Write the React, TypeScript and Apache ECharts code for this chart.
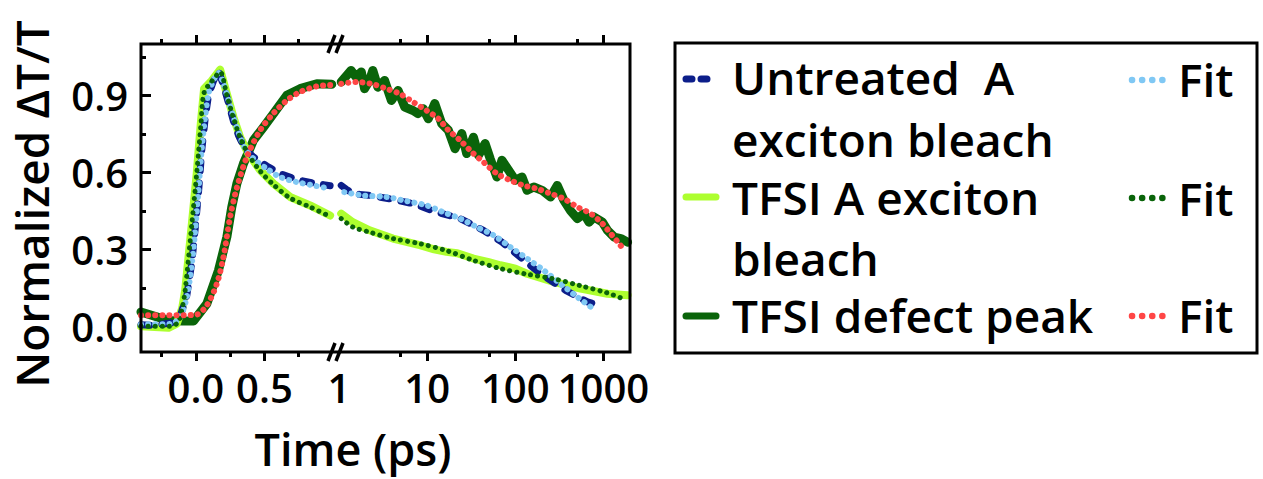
import React, { useEffect, useRef } from "react";
import * as echarts from "echarts";

// ---------- tick values ----------
const yTickValues = [0, 0.3, 0.6, 0.9];
const yMinorTickValues = [0.15, 0.45, 0.75, 1.05];
const linTickValues = [0, 0.5];
const linMinorTickValues = [-0.25, 0.25, 0.75];
const logLabelValues = [1, 10, 100, 1000];
const logMajorTickValues = [10, 100, 1000];
const logMinorTickValues = [5, 50, 500];

// ---------- linear segment (-0.4 .. 1 ps) ----------
const untreatedLinT = [-0.4, -0.3, -0.236, -0.163, -0.114, -0.066, -0.029, -0.005, 0.019, 0.044, 0.068, 0.092, 0.128, 0.165, 0.201, 0.238, 0.274, 0.31, 0.36, 0.42, 0.517, 0.614, 0.736, 0.857, 0.979];
const untreatedLinV = [0.006, 0.004, 0.009, 0.014, 0.04, 0.12, 0.25, 0.38, 0.52, 0.69, 0.81, 0.9, 0.955, 0.995, 0.94, 0.87, 0.8, 0.745, 0.69, 0.66, 0.625, 0.595, 0.572, 0.558, 0.548];
const untreatedFitLinT = untreatedLinT;
const untreatedFitLinV = [0.008, 0.008, 0.008, 0.013, 0.036, 0.114, 0.244, 0.374, 0.53, 0.7, 0.815, 0.906, 0.958, 0.987, 0.945, 0.88, 0.815, 0.757, 0.692, 0.653, 0.614, 0.582, 0.562, 0.549, 0.536];

const tfsiLinT = [-0.4, -0.3, -0.2, -0.139, -0.1, -0.078, -0.029, 0.007, 0.036, 0.06, 0.117, 0.177, 0.226, 0.274, 0.323, 0.383, 0.469, 0.566, 0.687, 0.833, 0.979];
const tfsiLinV = [0.0, -0.003, -0.006, 0.01, 0.07, 0.14, 0.4, 0.6, 0.79, 0.926, 0.958, 1.0, 0.906, 0.815, 0.737, 0.673, 0.608, 0.556, 0.504, 0.471, 0.432];
const tfsiFitLinT = [-0.4, -0.2, -0.13, -0.1, -0.078, -0.029, 0.007, 0.036, 0.06, 0.117, 0.177, 0.226, 0.274, 0.323, 0.383, 0.469, 0.566, 0.687, 0.833, 0.979];
const tfsiFitLinV = [0.0, 0.0, 0.015, 0.07, 0.14, 0.4, 0.6, 0.78, 0.91, 0.955, 0.99, 0.9, 0.812, 0.735, 0.67, 0.605, 0.552, 0.5, 0.465, 0.428];

const defectLinT = [-0.4, -0.3, -0.2, -0.1, -0.017, 0.08, 0.165, 0.226, 0.262, 0.299, 0.347, 0.42, 0.493, 0.566, 0.663, 0.76, 0.882, 0.991];
const defectLinV = [0.056, 0.039, 0.023, 0.021, 0.021, 0.088, 0.218, 0.348, 0.465, 0.556, 0.634, 0.725, 0.776, 0.829, 0.9, 0.926, 0.945, 0.943];
const defectFitLinT = [-0.4, -0.2, 0.0, 0.08, 0.153, 0.201, 0.25, 0.299, 0.372, 0.469, 0.566, 0.663, 0.76, 0.882, 0.979];
const defectFitLinV = [0.043, 0.043, 0.045, 0.082, 0.166, 0.27, 0.426, 0.54, 0.66, 0.764, 0.83, 0.88, 0.913, 0.935, 0.94];

// ---------- log segment (1 .. 2000 ps) ----------
const untreatedLogT = [1.06, 1.2, 1.43, 2.22, 3.76, 6.92, 12.8, 23.6, 43.5, 70.5, 119, 193, 372, 658, 782];
const untreatedLogV = [0.549, 0.535, 0.517, 0.51, 0.497, 0.478, 0.445, 0.42, 0.374, 0.328, 0.264, 0.205, 0.14, 0.095, 0.088];
const untreatedFitLogT = [1.15, 1.86, 3.44, 5.82, 9.84, 15.2, 23.6, 36.5, 56.6, 87.7, 136, 210, 326, 505, 817];
const untreatedFitLogV = [0.523, 0.51, 0.504, 0.488, 0.471, 0.445, 0.42, 0.387, 0.355, 0.309, 0.264, 0.218, 0.166, 0.114, 0.062];

const tfsiLogT = [1.06, 1.43, 2.22, 4.09, 8.26, 12, 16.6, 22, 33.5, 50, 67.5, 100, 136, 274, 551, 1111, 1878];
const tfsiLogV = [0.439, 0.406, 0.374, 0.342, 0.316, 0.3, 0.29, 0.285, 0.264, 0.25, 0.238, 0.225, 0.205, 0.173, 0.147, 0.127, 0.121];
const tfsiFitLogT = [1.06, 1.43, 2.22, 4.09, 8.26, 16.6, 33.5, 67.5, 136, 274, 551, 1111, 1648];
const tfsiFitLogV = [0.42, 0.387, 0.367, 0.342, 0.322, 0.295, 0.257, 0.225, 0.203, 0.185, 0.158, 0.13, 0.108];

const defectLogT = [1.06, 1.37, 1.57, 1.79, 1.95, 2.22, 2.42, 2.76, 3.29, 3.93, 4.68, 5.57, 6.92, 7.89, 9.0, 10.3, 12.2, 14.6, 17.4, 20.7, 24.7, 28.1, 33.5, 38.2, 45.5, 51.9, 61.8, 70.5, 84, 100, 119, 136, 162, 201, 251, 299, 356, 424, 505, 601, 686, 782, 973, 1111, 1321, 1574, 1878];
const defectLogV = [0.952, 0.997, 0.971, 0.991, 0.926, 0.958, 0.997, 0.932, 0.958, 0.88, 0.919, 0.854, 0.841, 0.829, 0.848, 0.809, 0.868, 0.79, 0.764, 0.692, 0.751, 0.673, 0.737, 0.666, 0.712, 0.653, 0.582, 0.647, 0.608, 0.569, 0.582, 0.53, 0.543, 0.53, 0.504, 0.549, 0.491, 0.45, 0.42, 0.439, 0.406, 0.426, 0.406, 0.374, 0.348, 0.342, 0.328];
const defectFitLogT = [1.06, 1.57, 2.32, 3.44, 4.89, 6.92, 9.84, 13.4, 17.4, 23.6, 32.1, 43.5, 61.8, 87.7, 124, 177, 251, 356, 505, 716, 973, 1211, 1507, 1718];
const defectFitLogV = [0.945, 0.952, 0.945, 0.926, 0.906, 0.874, 0.841, 0.809, 0.764, 0.725, 0.679, 0.64, 0.595, 0.569, 0.549, 0.536, 0.517, 0.497, 0.465, 0.439, 0.4, 0.361, 0.322, 0.296];

// ---------- legend ----------
const legendNames = ["Untreated  A\nexciton bleach", "TFSI A exciton\nbleach", "TFSI defect peak"];
const fitName = "Fit";

// ---------- styling ----------
const NAVY = "#0c1e8a";
const LIGHTBLUE = "#80c8f4";
const LIME = "#adff2f";
const DKGREEN = "#0a640a";
const RED = "#ff4646";
const FONT = "'Open Sans', 'Noto Sans', sans-serif";

const LIN_MIN = -0.4, LIN_MAX = 1.0, LOG_MIN = 1, LOG_MAX = 2000, Y_MIN = -0.1, Y_MAX = 1.1;
const G = { left: 141, top: 44, bottom: 352, brk: 333, logLeft: 339, right: 630 };

const zip = (t: number[], v: number[]) => t.map((x, i) => [x, v[i]]);
const lg = (x: number) => Math.log10(x);

const tickStyle = { color: "#000", width: 3 };
const labelStyle = { fontSize: 40, fontFamily: FONT, fontWeight: 600, color: "#000" };

function xTickAxis(gridIndex: number, position: string, min: number, max: number, ticks: number[], len: number, labels?: number[], fmt?: (v: number) => string) {
  return {
    gridIndex, type: "value", min, max, position,
    axisLine: { show: false, onZero: false }, splitLine: { show: false },
    axisTick: { show: true, inside: false, length: len, lineStyle: tickStyle, customValues: ticks },
    axisLabel: labels
      ? { show: true, customValues: labels, formatter: fmt, margin: 15, ...labelStyle }
      : { show: false },
  };
}

export default function App() {
  const ref = useRef<HTMLDivElement>(null);
  useEffect(() => {
    if (!ref.current) return;
    const chart = echarts.init(ref.current, undefined, { renderer: "svg" });
    const dataLine = (name: string, data: any, xi: number, yi: number, color: string, width: number, type: any = "solid") => ({
      name, type: "line", data, xAxisIndex: xi, yAxisIndex: yi, symbol: "none", smooth: false,
      lineStyle: { color, width, type, cap: "round", join: "round" }, z: 2,
    });
    const fitLine = (name: string, data: any, xi: number, yi: number, color: string, width: number, gap: number) => ({
      name, type: "line", data, xAxisIndex: xi, yAxisIndex: yi, symbol: "none", smooth: 0.3,
      lineStyle: { color, width, type: [0.1, gap], cap: "round" }, z: 3,
    });
    const fmtLin = (v: number) => v.toFixed(1);
    const fmtLog = (v: number) => String(Math.round(Math.pow(10, v)));
    const logMaxL = lg(LOG_MAX);

    const option: any = {
      animation: false,
      backgroundColor: "#fff",
      grid: [
        { left: G.left, top: G.top, width: G.brk - G.left, height: G.bottom - G.top, outerBoundsMode: "none" },
        { left: G.logLeft, top: G.top, width: G.right - G.logLeft, height: G.bottom - G.top, outerBoundsMode: "none" },
      ],
      xAxis: [
        xTickAxis(0, "bottom", LIN_MIN, LIN_MAX, linTickValues, 9, linTickValues, fmtLin), // 0 data axis
        xTickAxis(0, "bottom", LIN_MIN, LIN_MAX, linMinorTickValues, 5),
        xTickAxis(0, "top", LIN_MIN, LIN_MAX, linTickValues, 9),
        xTickAxis(0, "top", LIN_MIN, LIN_MAX, linMinorTickValues, 5),
        { gridIndex: 1, type: "log", logBase: 10, min: LOG_MIN, max: LOG_MAX, show: false, axisLine: { onZero: false } }, // 4 data axis
        xTickAxis(1, "bottom", 0, logMaxL, logMajorTickValues.map(lg), 9, logLabelValues.map(lg), fmtLog),
        xTickAxis(1, "bottom", 0, logMaxL, logMinorTickValues.map(lg), 5),
        xTickAxis(1, "top", 0, logMaxL, logMajorTickValues.map(lg), 9),
        xTickAxis(1, "top", 0, logMaxL, logMinorTickValues.map(lg), 5),
      ],
      yAxis: [
        {
          gridIndex: 0, type: "value", min: Y_MIN, max: Y_MAX, position: "left",
          axisLine: { show: false, onZero: false }, splitLine: { show: false },
          axisTick: { show: true, inside: true, length: 10, lineStyle: tickStyle, customValues: yTickValues },
          axisLabel: { show: true, customValues: yTickValues, formatter: (v: number) => v.toFixed(1), margin: 13, ...labelStyle },
        },
        {
          gridIndex: 0, type: "value", min: Y_MIN, max: Y_MAX, position: "left",
          axisLine: { show: false, onZero: false }, splitLine: { show: false }, axisLabel: { show: false },
          axisTick: { show: true, inside: true, length: 5, lineStyle: tickStyle, customValues: yMinorTickValues },
        },
        { gridIndex: 1, type: "value", min: Y_MIN, max: Y_MAX, show: false, axisLine: { onZero: false } },
      ],
      series: [
        dataLine("TFSI defect peak", zip(defectLinT, defectLinV), 0, 0, DKGREEN, 9),
        dataLine("TFSI defect peak", zip(defectLogT, defectLogV), 4, 2, DKGREEN, 9),
        dataLine("TFSI A exciton bleach", zip(tfsiLinT, tfsiLinV), 0, 0, LIME, 8),
        dataLine("TFSI A exciton bleach", zip(tfsiLogT, tfsiLogV), 4, 2, LIME, 8),
        dataLine("Untreated A exciton bleach", zip(untreatedLinT, untreatedLinV), 0, 0, NAVY, 7, [9, 12]),
        dataLine("Untreated A exciton bleach", zip(untreatedLogT, untreatedLogV), 4, 2, NAVY, 7, [9, 12]),
        fitLine("Fit (untreated)", zip(untreatedFitLinT, untreatedFitLinV), 0, 0, LIGHTBLUE, 6, 7),
        fitLine("Fit (untreated)", zip(untreatedFitLogT, untreatedFitLogV), 4, 2, LIGHTBLUE, 6, 7),
        fitLine("Fit (TFSI A)", zip(tfsiFitLinT, tfsiFitLinV), 0, 0, DKGREEN, 5, 7),
        fitLine("Fit (TFSI A)", zip(tfsiFitLogT, tfsiFitLogV), 4, 2, DKGREEN, 5, 7),
        fitLine("Fit (defect)", zip(defectFitLinT, defectFitLinV), 0, 0, RED, 6, 7),
        fitLine("Fit (defect)", zip(defectFitLogT, defectFitLogV), 4, 2, RED, 6, 7),
      ],
      graphic: [
        // plot frame
        { type: "rect", z: 10, shape: { x: G.left, y: G.top, width: G.right - G.left, height: G.bottom - G.top }, style: { fill: "none", stroke: "#000", lineWidth: 3 } },
        // axis break marks
        { type: "line", z: 11, shape: { x1: 328, y1: 53, x2: 335, y2: 35 }, style: { stroke: "#000", lineWidth: 3.5 } },
        { type: "line", z: 11, shape: { x1: 336, y1: 53, x2: 343, y2: 35 }, style: { stroke: "#000", lineWidth: 3.5 } },
        { type: "line", z: 11, shape: { x1: 328, y1: 361, x2: 335, y2: 343 }, style: { stroke: "#000", lineWidth: 3.5 } },
        { type: "line", z: 11, shape: { x1: 336, y1: 361, x2: 343, y2: 343 }, style: { stroke: "#000", lineWidth: 3.5 } },
        // axis titles
        { type: "text", z: 11, x: 353, y: 448, style: { text: "Time (ps)", align: "center", verticalAlign: "middle", fontSize: 45, fontWeight: 600, fontFamily: FONT, fill: "#000" } },
        { type: "text", z: 11, x: 31, y: 204, rotation: Math.PI / 2, style: { text: "Normalized \u0394T/T", align: "center", verticalAlign: "middle", fontSize: 46, fontWeight: 600, fontFamily: FONT, fill: "#000" } },
        // legend box
        { type: "rect", z: 10, shape: { x: 675, y: 43, width: 582, height: 310 }, style: { fill: "#fff", stroke: "#000", lineWidth: 3 } },
        // legend samples
        { type: "line", z: 11, shape: { x1: 686, y1: 79, x2: 712, y2: 79 }, style: { stroke: NAVY, lineWidth: 7, lineCap: "round", lineDash: [6, 9] } },
        { type: "line", z: 11, shape: { x1: 686, y1: 197, x2: 716, y2: 197 }, style: { stroke: LIME, lineWidth: 7, lineCap: "round" } },
        { type: "line", z: 11, shape: { x1: 686, y1: 316, x2: 716, y2: 316 }, style: { stroke: DKGREEN, lineWidth: 7, lineCap: "round" } },
        { type: "line", z: 11, shape: { x1: 1132, y1: 80, x2: 1163, y2: 80 }, style: { stroke: LIGHTBLUE, lineWidth: 6.5, lineCap: "round", lineDash: [0.1, 10] } },
        { type: "line", z: 11, shape: { x1: 1132, y1: 198, x2: 1163, y2: 198 }, style: { stroke: DKGREEN, lineWidth: 6.5, lineCap: "round", lineDash: [0.1, 10] } },
        { type: "line", z: 11, shape: { x1: 1132, y1: 316, x2: 1163, y2: 316 }, style: { stroke: RED, lineWidth: 6.5, lineCap: "round", lineDash: [0.1, 10] } },
        // legend texts
        ...legendNames.flatMap((n, i) => {
          const ys = [[77, 139], [197, 258], [315]][i];
          return n.split("\n").map((line, j) => ({
            type: "text", z: 11, x: 732, y: ys[j],
            style: { text: line, verticalAlign: "middle", fontSize: 46, fontWeight: 600, fontFamily: FONT, fill: "#000" },
          }));
        }),
        ...[79, 198, 315].map((y) => ({
          type: "text", z: 11, x: 1178, y,
          style: { text: fitName, verticalAlign: "middle", fontSize: 46, fontWeight: 600, fontFamily: FONT, fill: "#000" },
        })),
      ],
    };
    chart.setOption(option);
    return () => chart.dispose();
  }, []);
  return <div ref={ref} style={{ position: "absolute", left: 0, top: 0, width: 1263, height: 479 }} />;
}
